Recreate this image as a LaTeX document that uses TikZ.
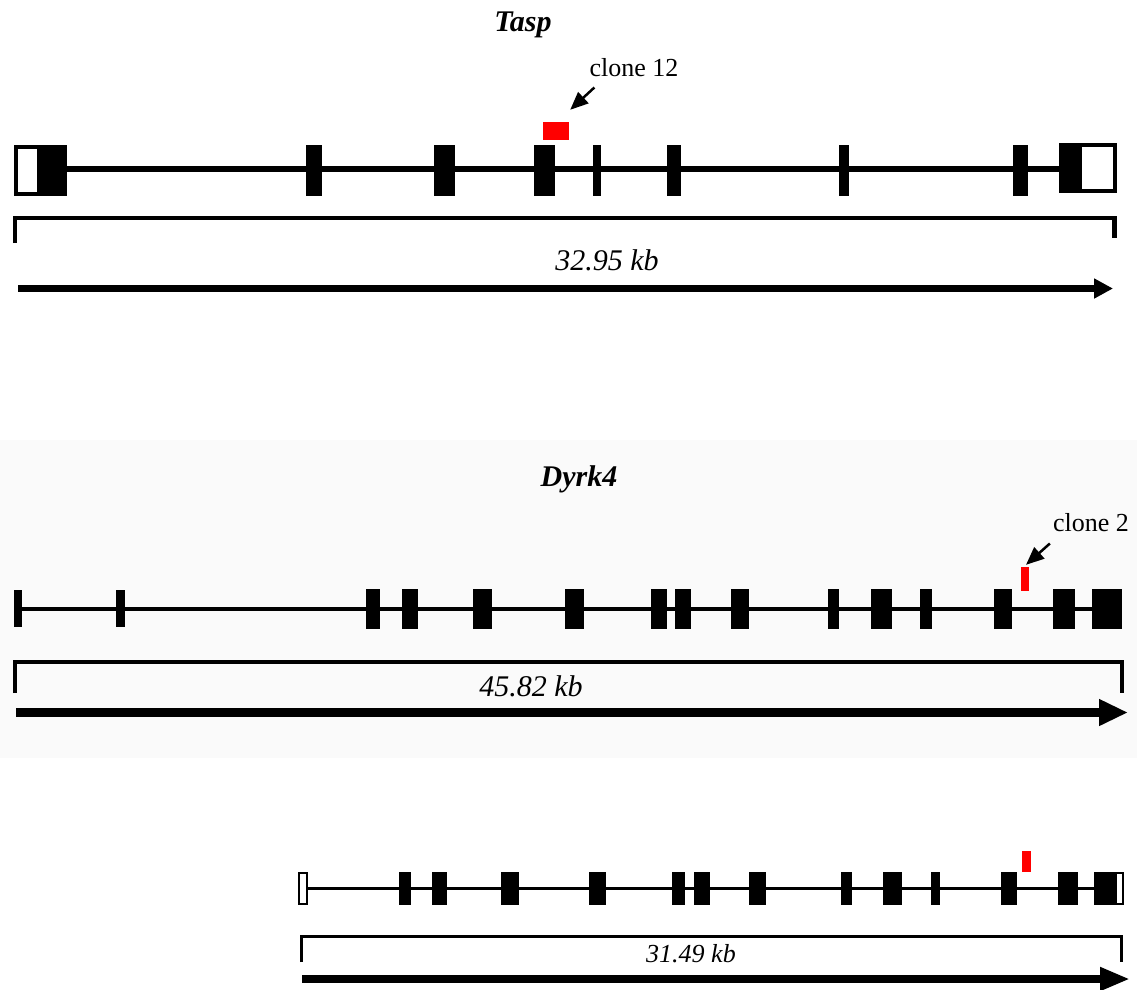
\documentclass[tikz,border=0pt]{standalone}
\usepackage{fontspec}
\setmainfont{Liberation Serif}
\usetikzlibrary{arrows.meta,calc}

\begin{document}
\begin{tikzpicture}[x=1pt,y=-1pt,
  genetitle/.style={font=\fontsize{30}{34}\selectfont\bfseries\itshape, inner sep=0pt, anchor=base},
  kblabel/.style={font=\fontsize{#1}{#1}\selectfont\itshape, inner sep=0pt, anchor=base},
  clonelabel/.style={font=\fontsize{26}{30}\selectfont, inner sep=0pt, anchor=base},
  clonebox/.style={fill=red, inner sep=0pt, draw=none},
  clonearrow/.style={line width=2.5pt, -{Triangle[length=18pt,width=15pt]}},
  intron/.style={line width=#1, line cap=butt},
  bracketline/.style={line width=#1, line join=miter, line cap=butt},
  scalearrow/.style={line width=#1, line cap=butt},
  exon/.style={fill=black}
]
\useasboundingbox (0,0) rectangle (1137,989);
\fill[black!2] (0,440) rectangle (1137,758);

% ---------------- Tasp ----------------
\node[genetitle] (tasp) at (523,31) {Tasp};
\draw[intron=6.5pt] (67,169) -- (1059,169);
% 5' box: outlined UTR + coding part
\fill[exon] (14,145) rectangle (67,196);
\fill[white] (18,149) rectangle (37,192);
\foreach \a/\b in {306/322, 434/455, 534/555, 593/601, 667/681, 839/849, 1013/1028}
  \fill[exon] (\a,145) rectangle (\b,196);
% 3' box
\fill[exon] (1059,143) rectangle (1117,193);
\fill[white] (1082,147) rectangle (1113,189);
% clone 12
\node[clonebox, minimum width=26pt, minimum height=18pt] (r12) at (556,131) {};
\node[clonelabel] (lbl12) at (634,76) {clone 12};
\draw[clonearrow] ($(lbl12.south west)+(5,11)$) -- ($(r12.north east)+(1,-12)$);
% scale
\draw[bracketline=4.5pt] (15,243) -- (15,218) -- (1114.5,218) -- (1114.5,238);
\node[kblabel=30] (kb1) at (607,270) {32.95 kb};
\coordinate (s1a) at (18,288.5);
\coordinate (s1b) at (1113,288.5);
\draw[scalearrow=7pt, -{Triangle[length=19pt,width=19pt]}] (s1a) -- (s1b);

% ---------------- Dyrk4 ----------------
\node[genetitle] (dyrk) at (579,486) {Dyrk4};
\draw[intron=4pt] (14,609) -- (1122,609);
\foreach \a/\b in {14/22, 116/125}
  \fill[exon] (\a,590) rectangle (\b,627);
\foreach \a/\b in {366/380, 402/418, 473/492, 565/584, 651/667, 675/691, 731/749,
                   828/839, 871/892, 920/932, 994/1012, 1053/1075, 1092/1122}
  \fill[exon] (\a,589) rectangle (\b,629);
% clone 2
\node[clonebox, minimum width=8pt, minimum height=24pt] (r2) at (1025,579) {};
\node[clonelabel] (lbl2) at (1091,531) {clone 2};
\draw[clonearrow] ($(lbl2.south west)+(-3,12)$) -- ($(r2.north)+(1,-2)$);
% scale
\draw[bracketline=4pt] (15,693) -- (15,662) -- (1122,662) -- (1122,693);
\node[kblabel=30] (kb2) at (531,696) {45.82 kb};
\coordinate (s2a) at (16,712.5);
\coordinate (s2b) at (1128,712.5);
\draw[scalearrow=9pt, -{Triangle[length=29pt,width=25pt]}] (s2a) -- (s2b);

% ---------------- third transcript ----------------
\draw[intron=3pt] (308,888) -- (1094,888);
\fill[exon] (298,872) rectangle (308,905);
\fill[white] (299.8,873.8) rectangle (306.2,903.2);
\foreach \a/\b in {399/411, 432/447, 501/519, 589/606, 672/685, 694/710, 749/766,
                   841/852, 883/902, 931/940, 1001/1017, 1058/1078}
  \fill[exon] (\a,872) rectangle (\b,905);
\fill[exon] (1094,872) rectangle (1124,905);
\fill[white] (1117,873.8) rectangle (1122.2,903.2);
\node[clonebox, minimum width=9pt, minimum height=21pt] (r3) at (1026.5,861.5) {};
% scale
\draw[bracketline=3pt] (301,962) -- (301,936) -- (1121,936) -- (1121,962);
\node[kblabel=26] (kb3) at (691,962) {31.49 kb};
\coordinate (s3a) at (302,979);
\coordinate (s3b) at (1130,979);
\draw[scalearrow=8pt, -{Triangle[length=30pt,width=22pt]}] (s3a) -- (s3b);
\end{tikzpicture}
\end{document}
